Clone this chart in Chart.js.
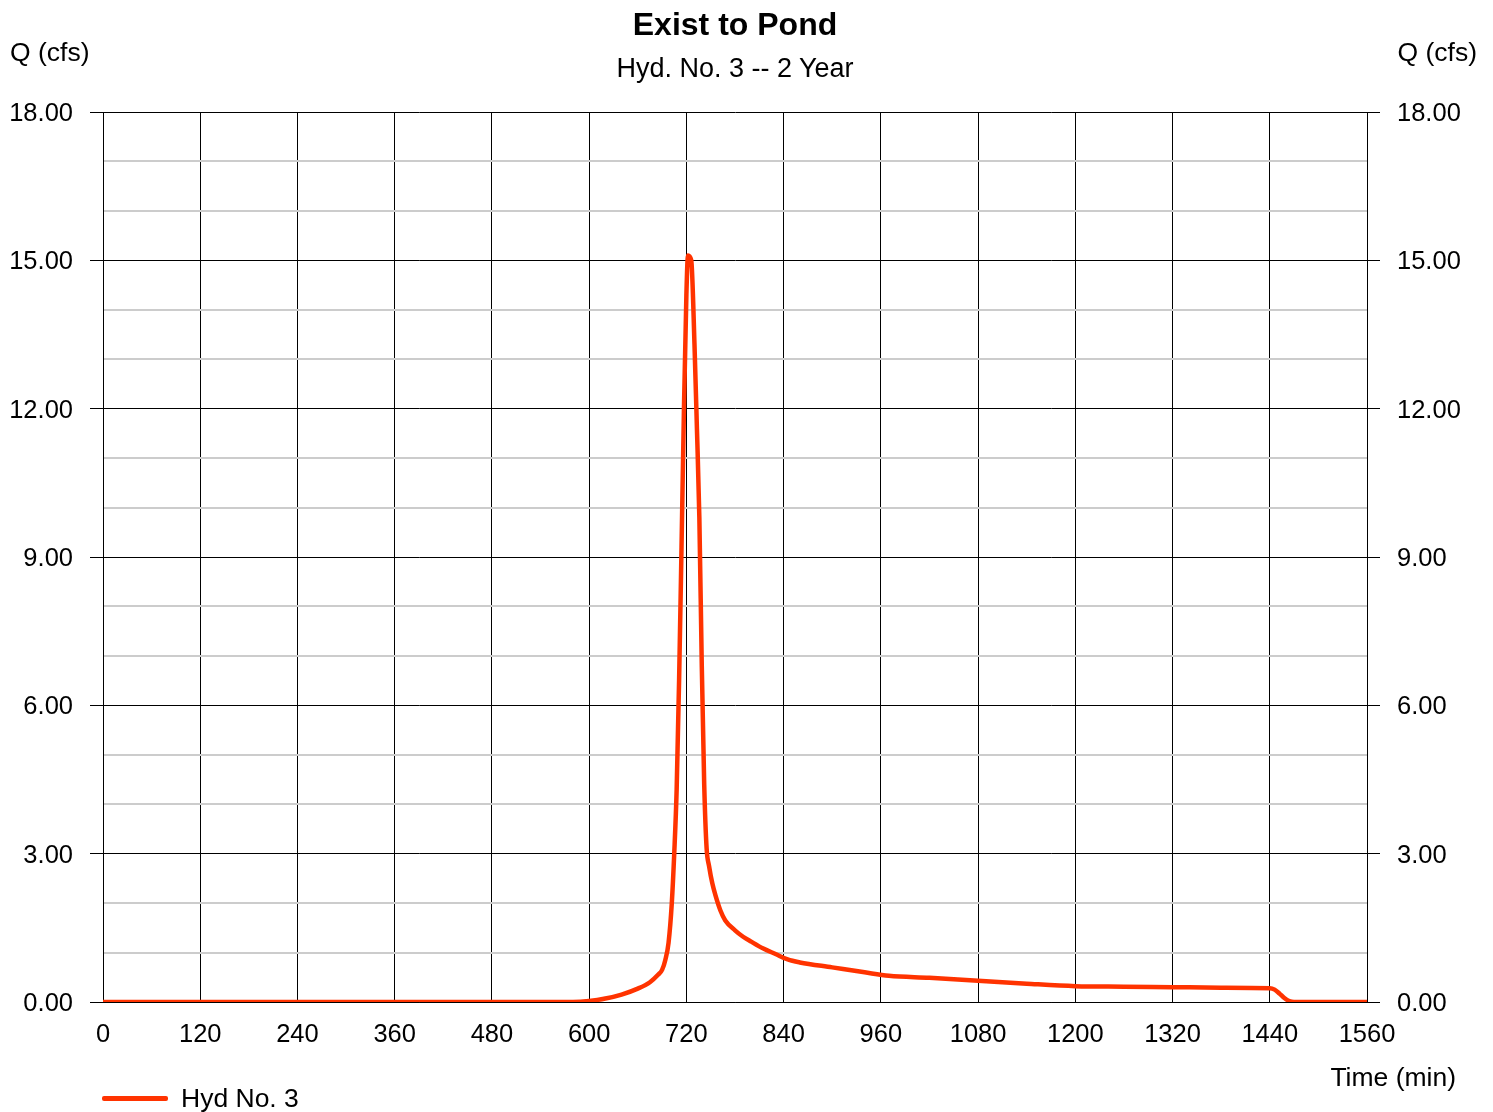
<!DOCTYPE html>
<html>
<head>
<meta charset="utf-8">
<script src="https://cdn.jsdelivr.net/npm/chart.js@4.4.1/dist/chart.umd.min.js"></script>
<style>
  body { margin: 0; background: #fff; }
  #wrap { position: relative; width: 1493px; height: 1112px; font-family: "Liberation Sans", Arial, sans-serif; color: #000; }
  #wrap canvas { position: absolute; left: 0; top: 0; }
  .txt { position: absolute; white-space: nowrap; line-height: 1; }
  #title { left: 0; width: 1470px; top: 8px; text-align: center; font-size: 32px; font-weight: bold; }
  #subtitle { left: 0; width: 1470px; top: 55px; text-align: center; font-size: 27px; }
  #qLeft { left: 10px; top: 39px; font-size: 26.5px; }
  #qRight { right: 16px; top: 39px; font-size: 26.5px; }
  #timeLbl { right: 37px; top: 1064px; font-size: 26.5px; }
  #legend { left: 102px; top: 1085px; font-size: 26.5px; display: flex; align-items: center; }
  #legend .swatch { width: 66px; height: 5px; border-radius: 2px; margin-right: 13px; }
</style>
</head>
<body>
<div id="wrap">
  <canvas id="hydChart" width="1493" height="1112"></canvas>
  <div class="txt" id="title">Exist to Pond</div>
  <div class="txt" id="subtitle">Hyd. No. 3 -- 2 Year</div>
  <div class="txt" id="qLeft">Q (cfs)</div>
  <div class="txt" id="qRight">Q (cfs)</div>
  <div class="txt" id="timeLbl">Time (min)</div>
  <div class="txt" id="legend"></div>
</div>
<script>
// hydrograph (time in min, flow in cfs)
const TIMES = [0, 580, 600, 620, 640, 660, 675, 685, 690, 694, 698, 702, 705, 708, 711, 714, 717, 720, 722,
  726, 730, 733, 736, 739, 742, 745, 748, 752, 756, 762, 768, 780, 790, 800, 815, 830, 845, 860, 900, 940, 970,
  1020, 1080, 1140, 1200, 1260, 1320, 1380, 1440, 1446, 1452, 1458, 1464, 1470, 1560];
const FLOWS = [0, 0, 0.02, 0.07, 0.15, 0.27, 0.40, 0.55, 0.65, 0.85, 1.2, 2.0, 3.0, 4.3, 6.5, 9.2, 12.0, 14.3, 15.1,
  15.0, 13.3, 11.6, 9.8, 6.8, 4.4, 3.1, 2.75, 2.4, 2.15, 1.85, 1.65, 1.45, 1.32, 1.22, 1.08, 0.97, 0.86, 0.80, 0.70, 0.60, 0.53,
  0.49, 0.43, 0.37, 0.32, 0.31, 0.30, 0.29, 0.28, 0.25, 0.17, 0.08, 0.02, 0, 0];
const SERIES_LABEL = 'Hyd No. 3';
const LINE_COLOR = '#ff3300';

const X_MIN = 0, X_MAX = 1560, X_STEP = 120;
const Y_MIN = 0, Y_MAX = 18, Y_MAJOR = 3;

const tickFont = { family: '"Liberation Sans", Arial, sans-serif', size: 25.5 };
const isMajor = v => Math.abs(v % Y_MAJOR) < 1e-9;

function yAxis(position, width, onChart) {
    return {
        type: 'linear',
        position: position,
        min: Y_MIN,
        max: Y_MAX,
        afterFit: s => { s.width = width; },
        border: { display: true, color: '#000', width: 1 },
        grid: {
            drawOnChartArea: onChart,
            color: c => isMajor(c.tick.value) ? '#000' : '#cccccc',
            lineWidth: c => isMajor(c.tick.value) ? 1 : 2,
            tickColor: c => isMajor(c.tick.value) ? '#000' : 'rgba(0,0,0,0)',
            tickLength: 13,
            tickWidth: 1
        },
        ticks: {
            stepSize: 1,
            autoSkip: false,
            padding: 17,
            labelOffset: 2,
            color: '#000',
            font: tickFont,
            callback: v => isMajor(v) ? v.toFixed(2) : ''
        }
    };
}

new Chart(document.getElementById('hydChart'), {
    type: 'line',
    data: {
        datasets: [{
            label: SERIES_LABEL,
            data: TIMES.map((t, i) => ({ x: t, y: FLOWS[i] })),
            borderColor: LINE_COLOR,
            borderWidth: 4.5,
            pointRadius: 0,
            fill: false,
            cubicInterpolationMode: 'monotone',
            yAxisID: 'y'
        }]
    },
    options: {
        responsive: false,
        animation: false,
        layout: { padding: { top: 112, left: 0, right: 0, bottom: 0 } },
        plugins: { legend: { display: false }, title: { display: false }, tooltip: { enabled: false } },
        scales: {
            x: {
                type: 'linear',
                min: X_MIN,
                max: X_MAX,
                afterFit: s => { s.height = 110; },
                border: { display: true, color: '#000', width: 1 },
                grid: { color: '#000', lineWidth: 1, drawTicks: false },
                ticks: { stepSize: X_STEP, padding: 18, color: '#000', font: tickFont, maxRotation: 0,
                    callback: v => String(v) }
            },
            y: yAxis('left', 103, true),
            y2: yAxis('right', 126, false)
        }
    }
});

// legend as html
const legend = document.getElementById('legend');
legend.innerHTML = '<span class="swatch" style="background:' + LINE_COLOR + '"></span><span>' + SERIES_LABEL + '</span>';
</script>
</body>
</html>
